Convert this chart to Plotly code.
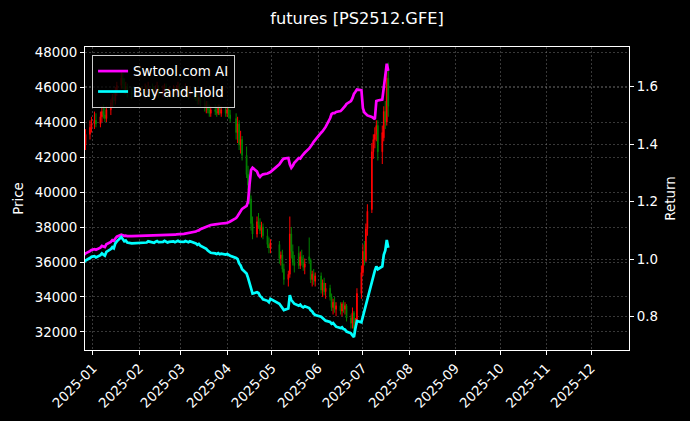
import plotly.graph_objects as go

# ---- data ----
dates = [
    "2024-12-26", "2024-12-27", "2024-12-30", "2024-12-31",
    "2025-01-02", "2025-01-03", "2025-01-06", "2025-01-07", "2025-01-08", "2025-01-09", "2025-01-10",
    "2025-01-13", "2025-01-14", "2025-01-15", "2025-01-16", "2025-01-17",
    "2025-01-20", "2025-01-21", "2025-01-22", "2025-01-23", "2025-01-24", "2025-01-27",
    "2025-02-05", "2025-02-06", "2025-02-07", "2025-02-10", "2025-02-11", "2025-02-12", "2025-02-13", "2025-02-14",
    "2025-02-17", "2025-02-18", "2025-02-19", "2025-02-20", "2025-02-21",
    "2025-02-24", "2025-02-25", "2025-02-26", "2025-02-27", "2025-02-28",
    "2025-03-03", "2025-03-04", "2025-03-05", "2025-03-06", "2025-03-07",
    "2025-03-10", "2025-03-11", "2025-03-12", "2025-03-13", "2025-03-14",
    "2025-03-17", "2025-03-18", "2025-03-19", "2025-03-20", "2025-03-21",
    "2025-03-24", "2025-03-25", "2025-03-26", "2025-03-27", "2025-03-28", "2025-03-31",
    "2025-04-01", "2025-04-02", "2025-04-03",
    "2025-04-07", "2025-04-08", "2025-04-09", "2025-04-10", "2025-04-11",
    "2025-04-14", "2025-04-15", "2025-04-16", "2025-04-17", "2025-04-18",
    "2025-04-21", "2025-04-22", "2025-04-23", "2025-04-24", "2025-04-25",
    "2025-04-28", "2025-04-29", "2025-04-30",
    "2025-05-06", "2025-05-07", "2025-05-08", "2025-05-09",
    "2025-05-12", "2025-05-13", "2025-05-14", "2025-05-15", "2025-05-16",
    "2025-05-19", "2025-05-20", "2025-05-21", "2025-05-22", "2025-05-23",
    "2025-05-26", "2025-05-27", "2025-05-28", "2025-05-29", "2025-05-30",
    "2025-06-03", "2025-06-04", "2025-06-05", "2025-06-06",
    "2025-06-09", "2025-06-10", "2025-06-11", "2025-06-12", "2025-06-13",
    "2025-06-16", "2025-06-17", "2025-06-18", "2025-06-19", "2025-06-20",
    "2025-06-23", "2025-06-24", "2025-06-25", "2025-06-26", "2025-06-27",
    "2025-06-30", "2025-07-01", "2025-07-02", "2025-07-03", "2025-07-04",
    "2025-07-07", "2025-07-08", "2025-07-09", "2025-07-10", "2025-07-11",
    "2025-07-14", "2025-07-15", "2025-07-16", "2025-07-17", "2025-07-18",
]

open_ = [
    42000, 42700, 43300, 43700,
    43900, 44100, 43900, 44300, 44600, 44400, 44200,
    44700, 45100, 45400, 45200, 45800,
    46100, 46500, 46200, 45900, 46000, 45700,
    45600, 45800, 45700, 45900, 45800, 45600, 45800, 45900,
    45700, 45800, 46000, 45700, 45600,
    45700, 45800, 45700, 45800, 46000,
    45700, 45700, 45900, 45700, 45600,
    45800, 45600, 45400, 45200, 45400,
    45100, 44800, 45000, 44700, 44500,
    44700, 44600, 44500, 44800, 44500, 44700,
    44500, 44700, 44400,
    44200, 43400, 43900, 42700, 43000,
    42100, 41000, 40400, 39600, 38200,
    37600, 38300, 38100, 37800, 38000,
    37500, 37000, 36800,
    37000, 36200, 36400, 35600,
    35000, 35300, 37600, 36600, 36000,
    36500, 35800, 36300, 36000, 35700,
    36300, 36100, 35000, 35300, 34900,
    35200, 34400, 34800, 34300,
    34500, 34000, 33400, 33700, 33300,
    33500, 33200, 33600, 33300, 33500,
    32800, 32500, 33100, 32200, 32600,
    34200, 35400, 36600, 36100, 37900,
    39000, 42300, 43000, 43300, 43800,
    42300, 43100, 44600, 44000, 46500,
]

high = [
    43300, 43600, 44100, 44300,
    44600, 44500, 44600, 44900, 45000, 44800, 44900,
    45300, 45600, 45700, 46000, 46300,
    46900, 46800, 46500, 46300, 46200, 46000,
    46200, 46100, 46300, 46200, 46000, 46100, 46300, 46100,
    46100, 46200, 46200, 45900, 46000,
    46100, 46000, 46100, 46300, 46200,
    46000, 46200, 46100, 45900, 46000,
    46000, 45800, 45600, 45600, 45600,
    45400, 45200, 45200, 45000, 44900,
    45000, 44900, 45000, 45000, 44900, 44900,
    44900, 44800, 44700,
    44500, 44300, 44100, 43500, 43200,
    42600, 41500, 40800, 39800, 38600,
    38600, 38800, 38500, 38300, 38200,
    37900, 37400, 37300,
    37200, 36600, 36700, 35900,
    35500, 38600, 38000, 37000, 36400,
    36900, 36600, 36700, 36400, 36200,
    37400, 36200, 35500, 35600, 35400,
    35400, 35000, 35100, 34800,
    34700, 34200, 33900, 34000, 33700,
    33700, 33700, 33800, 33700, 33600,
    33000, 33400, 33200, 32800, 34500,
    35800, 37000, 37200, 38200, 39300,
    42800, 43300, 43700, 44100, 44100,
    43800, 44900, 45200, 46900, 47400,
]

low = [
    41800, 42400, 43000, 43400,
    43600, 43700, 43700, 44000, 44200, 44000, 44000,
    44400, 44800, 44900, 45000, 45500,
    45900, 45900, 45600, 45600, 45400, 45300,
    45300, 45400, 45500, 45400, 45300, 45400, 45600, 45400,
    45400, 45600, 45500, 45300, 45400,
    45500, 45400, 45500, 45600, 45500,
    45400, 45500, 45500, 45300, 45400,
    45300, 45200, 45000, 45000, 44900,
    44600, 44500, 44500, 44300, 44300,
    44400, 44300, 44400, 44400, 44300, 44300,
    44300, 44200, 44000,
    43000, 42800, 42400, 42200, 41800,
    40800, 40100, 39300, 37800, 37300,
    37400, 37900, 37600, 37400, 37300,
    36800, 36500, 36500,
    35900, 35800, 35400, 34700,
    34600, 35100, 36200, 35800, 35400,
    35600, 35600, 35800, 35500, 35300,
    35900, 34800, 34600, 34700, 34600,
    34200, 34000, 34100, 33900,
    33800, 33200, 33000, 33100, 32900,
    33000, 32900, 33100, 33000, 32600,
    32200, 32200, 31900, 31900, 32400,
    33900, 35200, 35800, 36000, 37500,
    38800, 41900, 42500, 42900, 41800,
    41600, 42900, 43600, 43800, 44300,
]

close = [
    42700, 43300, 43700, 43900,
    44100, 43900, 44300, 44600, 44400, 44200, 44700,
    45100, 45400, 45200, 45800, 46100,
    46500, 46200, 45900, 46000, 45700, 45600,
    45800, 45700, 45900, 45800, 45600, 45800, 45900, 45700,
    45800, 46000, 45700, 45600, 45700,
    45800, 45700, 45800, 46000, 45700,
    45700, 45900, 45700, 45600, 45800,
    45600, 45400, 45200, 45400, 45100,
    44800, 45000, 44700, 44500, 44700,
    44600, 44500, 44800, 44500, 44700, 44500,
    44700, 44400, 44200,
    43400, 43900, 42700, 43000, 42100,
    41000, 40400, 39600, 38200, 37600,
    38300, 38100, 37800, 38000, 37500,
    37000, 36800, 37100,
    36200, 36400, 35600, 35000,
    35300, 37600, 36600, 36000, 35800,
    35800, 36300, 36000, 35700, 35900,
    36100, 35000, 35300, 34900, 35200,
    34400, 34800, 34300, 34500,
    34000, 33400, 33700, 33300, 33500,
    33200, 33600, 33300, 33500, 32800,
    32500, 33100, 32200, 32600, 34200,
    35400, 36600, 36100, 37900, 38900,
    42300, 43000, 43300, 43800, 42300,
    43400, 44600, 44000, 46500, 44900,
]

ai_return = [
    1.015, 1.020, 1.028, 1.032,
    1.035, 1.033, 1.040, 1.046, 1.044, 1.042, 1.052,
    1.060, 1.066, 1.064, 1.072, 1.078,
    1.085, 1.083, 1.081, 1.082, 1.080, 1.080,
    1.081, 1.081, 1.082, 1.082, 1.081, 1.082, 1.083, 1.082,
    1.083, 1.084, 1.083, 1.083, 1.084,
    1.085, 1.085, 1.086, 1.087, 1.087,
    1.088, 1.089, 1.089, 1.090, 1.091,
    1.093, 1.096, 1.099, 1.100, 1.104,
    1.110, 1.112, 1.115, 1.118, 1.119,
    1.121, 1.122, 1.122, 1.123, 1.124, 1.125,
    1.126, 1.128, 1.131,
    1.143, 1.150, 1.160, 1.170, 1.175,
    1.185, 1.200, 1.260, 1.310, 1.318,
    1.305, 1.292, 1.286, 1.292, 1.295,
    1.298, 1.300, 1.303,
    1.330, 1.340, 1.345, 1.350,
    1.352, 1.330, 1.318, 1.325, 1.335,
    1.352, 1.350, 1.358, 1.365, 1.370,
    1.385, 1.395, 1.400, 1.408, 1.415,
    1.440, 1.445, 1.452, 1.460,
    1.490, 1.505, 1.508, 1.508, 1.512,
    1.515, 1.520, 1.525, 1.532, 1.540,
    1.550, 1.560, 1.575, 1.582, 1.590,
    1.588, 1.525, 1.510, 1.505, 1.500,
    1.495, 1.490, 1.487, 1.550, 1.552,
    1.555, 1.600, 1.640, 1.680, 1.655,
]

bh_return = [
    0.990, 0.995, 1.004, 1.008,
    1.010, 1.006, 1.014, 1.020, 1.016, 1.012, 1.025,
    1.035, 1.042, 1.038, 1.055, 1.062,
    1.077, 1.070, 1.062, 1.065, 1.058, 1.055,
    1.060, 1.058, 1.062, 1.060, 1.057, 1.061, 1.063, 1.059,
    1.060, 1.064, 1.061, 1.058, 1.060,
    1.062, 1.059, 1.061, 1.064, 1.061,
    1.060, 1.063, 1.061, 1.059, 1.062,
    1.058, 1.055, 1.050, 1.053, 1.047,
    1.040, 1.036, 1.030, 1.025, 1.022,
    1.020, 1.018, 1.021, 1.017, 1.019, 1.016,
    1.018, 1.015, 1.012,
    1.004, 1.000, 0.985, 0.978, 0.965,
    0.950, 0.935, 0.915, 0.895, 0.880,
    0.885, 0.882, 0.872, 0.868, 0.860,
    0.855, 0.850, 0.862,
    0.845, 0.838, 0.830, 0.823,
    0.828, 0.875, 0.858, 0.850, 0.845,
    0.838, 0.842, 0.835, 0.832, 0.836,
    0.830, 0.822, 0.818, 0.810, 0.806,
    0.800, 0.796, 0.790, 0.786,
    0.782, 0.775, 0.778, 0.770, 0.765,
    0.760, 0.763, 0.757, 0.755, 0.748,
    0.742, 0.735, 0.729, 0.760, 0.785,
    0.780, 0.800, 0.825, 0.850, 0.870,
    0.925, 0.945, 0.960, 0.975, 0.965,
    0.975, 1.015, 1.030, 1.067, 1.040,
]

month_ticks = ["2025-%02d-01" % m for m in range(1, 13)]
month_labels = ["2025-%02d" % m for m in range(1, 13)]
price_ticks = [32000, 34000, 36000, 38000, 40000, 42000, 44000, 46000, 48000]
return_ticks = [0.8, 1.0, 1.2, 1.4, 1.6]

# ---- figure ----
FONT = "DejaVu Sans"
TICK = 13.4
GRID = "rgba(140,140,140,0.40)"
GDASH = "2px,2px"

fig = go.Figure()
fig.add_trace(go.Candlestick(
    x=dates, open=open_, high=high, low=low, close=close,
    increasing=dict(line=dict(color="#ff0000", width=1), fillcolor="#ff0000"),
    decreasing=dict(line=dict(color="#008000", width=1), fillcolor="#008000"),
    showlegend=False, name="PS2512", yaxis="y",
))
fig.add_trace(go.Scatter(
    x=dates, y=ai_return, mode="lines", name="Swtool.com AI",
    line=dict(color="#ff00ff", width=2.7), yaxis="y2",
))
fig.add_trace(go.Scatter(
    x=dates, y=bh_return, mode="lines", name="Buy-and-Hold",
    line=dict(color="#00ffff", width=2.7), yaxis="y2",
))

fig.update_layout(
    width=690, height=421,
    paper_bgcolor="black", plot_bgcolor="black",
    font=dict(family=FONT, color="white", size=TICK),
    margin=dict(l=85, r=61, t=47, b=71),
    title=dict(text="futures [PS2512.GFE]", x=0.5, xref="paper", xanchor="center",
               y=1 - 18 / 421, yref="container", yanchor="middle",
               font=dict(size=16.2, color="white", family=FONT)),
    xaxis=dict(
        type="date", range=["2024-12-26 16:00", "2025-12-26 10:00"],
        rangeslider=dict(visible=False), automargin=False,
        tickvals=month_ticks, ticktext=month_labels, tickangle=-45,
        ticks="outside", ticklen=4, tickcolor="white", tickfont=dict(size=TICK),
        showline=True, linecolor="white", linewidth=1, mirror=True,
        showgrid=True, gridcolor=GRID, griddash=GDASH, gridwidth=0.6,
        zeroline=False,
    ),
    yaxis=dict(
        title=dict(text="Price", font=dict(size=TICK), standoff=8),
        range=[30970, 48290], tickvals=price_ticks, tickformat="d", automargin=False,
        ticks="outside", ticklen=4, tickcolor="white",
        showline=True, linecolor="white", linewidth=1,
        showgrid=True, gridcolor=GRID, griddash=GDASH, gridwidth=0.6,
        zeroline=False,
    ),
    yaxis2=dict(
        title=dict(text="Return", font=dict(size=TICK), standoff=8),
        overlaying="y", side="right", automargin=False,
        range=[0.684, 1.738], tickvals=return_ticks, tickformat=".1f",
        ticks="outside", ticklen=4, tickcolor="white",
        showline=True, linecolor="white", linewidth=1,
        showgrid=True, gridcolor=GRID, griddash=GDASH, gridwidth=0.6,
        zeroline=False,
    ),
    legend=dict(
        x=0.013, y=0.974, xanchor="left", yanchor="top",
        bgcolor="rgba(0,0,0,0.8)", bordercolor="#cccccc", borderwidth=1,
        font=dict(size=TICK, color="white"),
    ),
    showlegend=True,
)

fig.write_html(
    "out.html",
    config={"displayModeBar": False},
    post_script="document.body.style.margin='0px';document.body.style.background='black';",
)
